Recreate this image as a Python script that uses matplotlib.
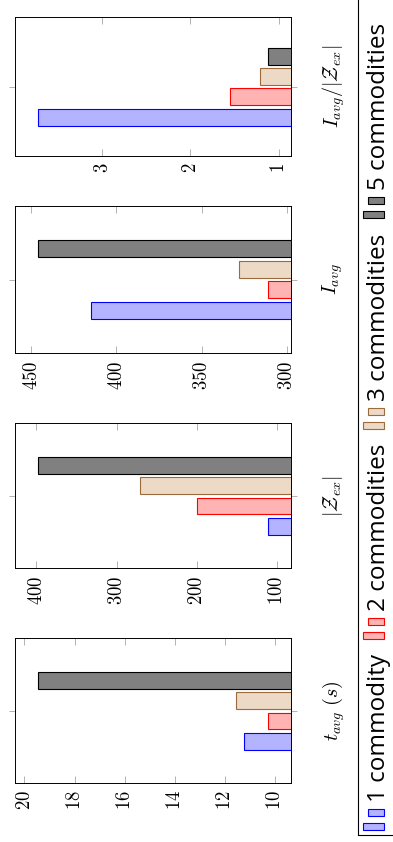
import numpy as np
import matplotlib.pyplot as plt
from matplotlib.patches import Rectangle

plt.rcParams['mathtext.fontset'] = 'cm'

# series (one bar per panel each)
series = ['1 commodity', '2 commodities', '3 commodities', '5 commodities']
fills = ['#b3b3ff', '#ffb3b3', '#ecd9c6', '#808080']
edges = ['#0000ff', '#ff0000', '#9c6b3c', '#000000']

# metrics shown, one panel each
metrics = [r'$t_{avg}\ (s)$', r'$|\mathcal{Z}_{ex}|$', r'$I_{avg}$',
           r'$I_{avg}/|\mathcal{Z}_{ex}|$']
t_avg = [11.23, 10.27, 11.56, 19.46]
z_ex = [111, 200, 271, 398]
i_avg = [415, 311, 328, 446]
ratio = [3.73, 1.55, 1.21, 1.12]
values = [t_avg, z_ex, i_avg, ratio]
ticks = [[10, 12, 14, 16, 18, 20], [100, 200, 300, 400],
         [300, 350, 400, 450], [1, 2, 3]]

W, H = 393, 842


def draw_panel(fig, box, name, vals, tk):
    """
    One group of bars, laid out sideways: values grow to the left.
    """
    top, bot = box
    x0, x1 = 15, 291
    pitch = 20.4
    ax = fig.add_axes([x0 / W, (H - bot) / H, (x1 - x0) / W, (bot - top) / H])

    offsets = np.array([-1.5, -0.5, 0.5, 1.5])
    for v, off, fc, ec in zip(vals, offsets, fills, edges):
        ax.barh(off, v, height=0.83, left=0, color=fc, edgecolor=ec, linewidth=0.8)

    lo, hi = min(vals), max(vals)
    pad = 0.1 * (hi - lo)
    ax.set_xlim(hi + pad, lo - pad)
    half = (bot - top) / 2 / pitch
    ax.set_ylim(-half, half)

    ax.set_xticks(tk, [f'${t}$' for t in tk], rotation=90, fontsize=13.5)
    ax.set_yticks([0], [name], rotation=90, fontsize=14.5, va='center')

    ax.tick_params(axis='x', direction='in', length=5, width=0.6, color='0.65',
                   top=True, bottom=True, pad=5)
    ax.tick_params(axis='y', direction='out', length=4.5, width=0.6, color='0.65',
                   left=True, right=True, labelleft=False, labelright=True, pad=17)
    for s in ax.spines.values():
        s.set_linewidth(0.7)
    return ax


def draw_legend(fig):
    """
    Legend box along the right edge, entries read bottom to top.
    """
    fig.add_artist(Rectangle((358 / W, 7 / H), 60 / W, 860 / H, transform=fig.transFigure,
                             fill=False, ec='black', lw=0.8, clip_on=False))
    # top of the short handle bar for each entry, pixels from the top
    handle_top = [809.3, 618.3, 408.3, 197.3]
    for label, fc, ec, ht in zip(series, fills, edges, handle_top):
        fig.add_artist(Rectangle((368 / W, (H - ht - 6.7) / H), 16 / W, 6.7 / H,
                                 transform=fig.transFigure, fc=fc, ec=ec, lw=0.8))
        fig.add_artist(Rectangle((363 / W, (H - ht - 20.3) / H), 21 / W, 6.7 / H,
                                 transform=fig.transFigure, fc=fc, ec=ec, lw=0.8))
        fig.text(385 / W, (H - ht + 7) / H, label, rotation=90, rotation_mode='anchor',
                 ha='left', va='baseline', fontsize=17.5, family='Open Sans')


if __name__ == '__main__':
    fig = plt.figure(figsize=(W / 100, H / 100), dpi=100)
    boxes = [(638.3, 783.3), (423.3, 568.3), (205.7, 353.3), (17.3, 156.0)]
    for box, name, vals, tk in zip(boxes, metrics, values, ticks):
        draw_panel(fig, box, name, vals, tk)
    draw_legend(fig)
    fig.savefig('out.png', dpi=100)
